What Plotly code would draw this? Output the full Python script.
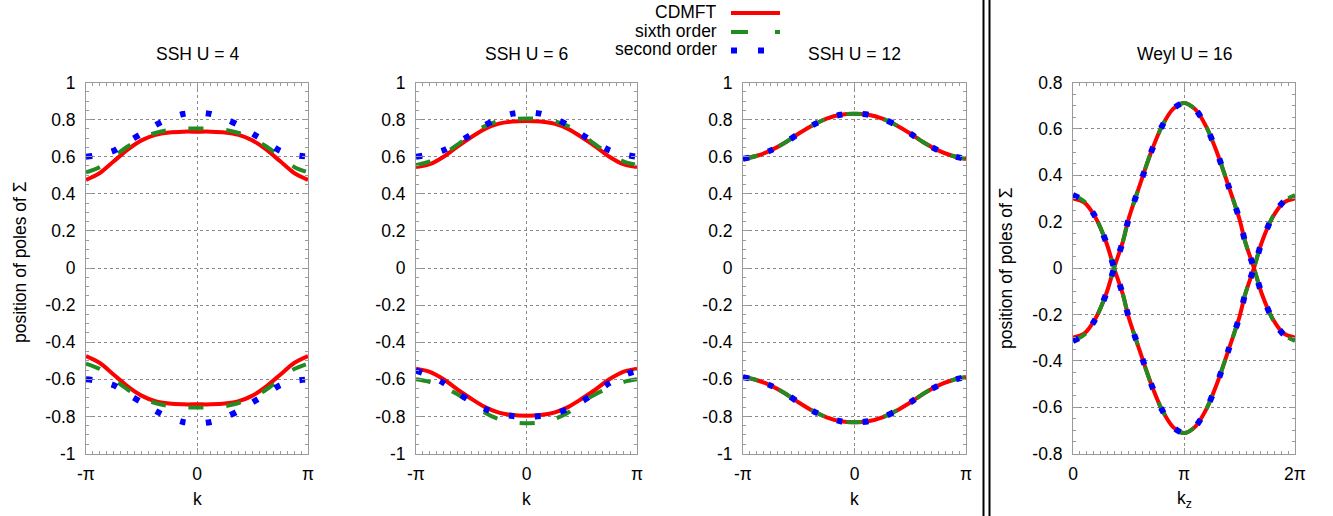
import math
import plotly.graph_objects as go

PI = math.pi

# ---------------- data (k in units of pi) ----------------
k_ssh = [-1, -0.875, -0.75, -0.625, -0.5, -0.375, -0.25, -0.125, 0,
         0.125, 0.25, 0.375, 0.5, 0.625, 0.75, 0.875, 1]

# SSH U = 4
u4_cdmft_up = [0.475, 0.512, 0.575, 0.638, 0.688, 0.718, 0.731, 0.735, 0.735,
               0.735, 0.731, 0.718, 0.688, 0.638, 0.575, 0.512, 0.475]
u4_cdmft_lo = [-0.475, -0.512, -0.575, -0.638, -0.688, -0.718, -0.731, -0.735, -0.735,
               -0.735, -0.731, -0.718, -0.688, -0.638, -0.575, -0.512, -0.475]
u4_sixth_up = [0.515, 0.545, 0.600, 0.655, 0.700, 0.728, 0.745, 0.752, 0.752,
               0.752, 0.745, 0.728, 0.700, 0.655, 0.600, 0.545, 0.515]
u4_sixth_lo = [-0.515, -0.545, -0.600, -0.655, -0.700, -0.728, -0.745, -0.752, -0.752,
               -0.752, -0.745, -0.728, -0.700, -0.655, -0.600, -0.545, -0.515]
u4_second_up = [0.600, 0.610, 0.632, 0.680, 0.724, 0.770, 0.806, 0.830, 0.838,
                0.830, 0.806, 0.770, 0.724, 0.680, 0.632, 0.610, 0.600]
u4_second_lo = [-0.600, -0.610, -0.632, -0.680, -0.724, -0.770, -0.806, -0.830, -0.838,
                -0.830, -0.806, -0.770, -0.724, -0.680, -0.632, -0.610, -0.600]

# SSH U = 6
u6_cdmft_up = [0.545, 0.560, 0.600, 0.655, 0.705, 0.750, 0.778, 0.790, 0.793,
               0.790, 0.778, 0.750, 0.705, 0.655, 0.600, 0.560, 0.545]
u6_cdmft_lo = [-0.543, -0.560, -0.600, -0.655, -0.705, -0.750, -0.780, -0.793, -0.796,
               -0.793, -0.780, -0.750, -0.705, -0.655, -0.600, -0.560, -0.543]
u6_sixth_up = [0.555, 0.575, 0.615, 0.665, 0.720, 0.765, 0.792, 0.803, 0.806,
               0.803, 0.792, 0.765, 0.720, 0.665, 0.615, 0.575, 0.555]
u6_sixth_lo = [-0.600, -0.615, -0.645, -0.680, -0.725, -0.780, -0.815, -0.832, -0.837,
               -0.832, -0.815, -0.780, -0.725, -0.680, -0.645, -0.615, -0.600]
u6_second_up = [0.600, 0.612, 0.635, 0.675, 0.720, 0.770, 0.808, 0.832, 0.840,
                0.832, 0.808, 0.770, 0.720, 0.675, 0.635, 0.612, 0.600]
u6_second_lo = [-0.553, -0.580, -0.620, -0.672, -0.720, -0.760, -0.785, -0.798, -0.802,
                -0.798, -0.785, -0.760, -0.720, -0.672, -0.620, -0.580, -0.553]

# SSH U = 12 (all three methods coincide)
u12_up = [0.588, 0.605, 0.634, 0.675, 0.725, 0.770, 0.805, 0.826, 0.832,
          0.826, 0.805, 0.770, 0.725, 0.675, 0.634, 0.605, 0.588]
u12_lo = [-0.588, -0.605, -0.634, -0.675, -0.725, -0.770, -0.805, -0.826, -0.832,
          -0.826, -0.805, -0.770, -0.725, -0.675, -0.634, -0.605, -0.588]

# Weyl U = 16 (kz in units of pi)
k_weyl = [0, 0.1, 0.2, 0.3, 0.37, 0.45, 0.5, 0.6, 0.7, 0.8, 0.9, 1.0,
          1.1, 1.2, 1.3, 1.4, 1.5, 1.55, 1.63, 1.7, 1.8, 1.9, 2.0]
weyl_cdmft_a = [0.300, 0.283, 0.220, 0.110, 0.000, -0.115, -0.210, -0.355, -0.495, -0.610, -0.685, -0.712,
                -0.685, -0.610, -0.495, -0.355, -0.210, -0.115, 0.000, 0.110, 0.220, 0.283, 0.300]
weyl_cdmft_b = [-0.300, -0.283, -0.220, -0.110, 0.000, 0.115, 0.210, 0.355, 0.495, 0.610, 0.685, 0.712,
                0.685, 0.610, 0.495, 0.355, 0.210, 0.115, 0.000, -0.110, -0.220, -0.283, -0.300]
weyl_pt_a = [0.315, 0.288, 0.222, 0.110, 0.000, -0.115, -0.210, -0.355, -0.495, -0.610, -0.685, -0.712,
             -0.685, -0.610, -0.495, -0.355, -0.210, -0.115, 0.000, 0.110, 0.222, 0.288, 0.315]
weyl_pt_b = [-0.315, -0.288, -0.222, -0.110, 0.000, 0.115, 0.210, 0.355, 0.495, 0.610, 0.685, 0.712,
             0.685, 0.610, 0.495, 0.355, 0.210, 0.115, 0.000, -0.110, -0.222, -0.288, -0.315]

panel_titles = ["SSH U = 4", "SSH U = 6", "SSH U = 12", "Weyl U = 16"]
legend_names = ["CDMFT", "sixth order", "second order"]
ssh_yticks = [-1, -0.8, -0.6, -0.4, -0.2, 0, 0.2, 0.4, 0.6, 0.8, 1]
ssh_ytext = ["-1", "-0.8", "-0.6", "-0.4", "-0.2", "0", "0.2", "0.4", "0.6", "0.8", "1"]
weyl_yticks = [-0.8, -0.6, -0.4, -0.2, 0, 0.2, 0.4, 0.6, 0.8]
weyl_ytext = ["-0.8", "-0.6", "-0.4", "-0.2", "0", "0.2", "0.4", "0.6", "0.8"]
ssh_xtext = ["-π", "0", "π"]
weyl_xtext = ["0", "π", "2π"]

# ---------------- styles ----------------
W, H = 1333, 516
FONT = "Liberation Sans, Arial, Helvetica, sans-serif"
FS = 17.5
RED, GREEN, BLUE = "#ff0000", "#228b22", "#0000ff"
styles = [
    dict(color=RED, width=4, dash="solid"),
    dict(color=GREEN, width=4, dash="15px,23px"),
    dict(color=BLUE, width=6, dash="6px,20px"),
]

# panel geometry in pixels
px_x = [(86, 308), (416, 637), (743, 966), (1073, 1295)]
py_top, py_bot = 82.5, 453.5


def fx(p):
    return p / W


def fy(p):
    return 1 - p / H


fig = go.Figure()


def add(axis_i, kpi, upper, lower, style):
    xs = [v * PI for v in kpi]
    x = xs + [None] + xs
    y = upper + [None] + lower
    sfx = "" if axis_i == 1 else str(axis_i)
    fig.add_trace(go.Scatter(
        x=x, y=y, mode="lines", xaxis="x" + sfx, yaxis="y" + sfx,
        line=dict(shape="spline", smoothing=0.8, **style),
        showlegend=False, hoverinfo="skip"))


# panel 1
add(1, k_ssh, u4_cdmft_up, u4_cdmft_lo, styles[0])
add(1, k_ssh, u4_sixth_up, u4_sixth_lo, styles[1])
add(1, k_ssh, u4_second_up, u4_second_lo, styles[2])
# panel 2
add(2, k_ssh, u6_cdmft_up, u6_cdmft_lo, styles[0])
add(2, k_ssh, u6_sixth_up, u6_sixth_lo, styles[1])
add(2, k_ssh, u6_second_up, u6_second_lo, styles[2])
# panel 3
add(3, k_ssh, u12_up, u12_lo, styles[0])
add(3, k_ssh, u12_up, u12_lo, styles[1])
add(3, k_ssh, u12_up, u12_lo, styles[2])
# panel 4
add(4, k_weyl, weyl_cdmft_a, weyl_cdmft_b, styles[0])
add(4, k_weyl, weyl_pt_a, weyl_pt_b, styles[1])
add(4, k_weyl, weyl_pt_a, weyl_pt_b, styles[2])

layout = dict(
    width=W, height=H,
    margin=dict(l=0, r=0, t=0, b=0, autoexpand=False),
    paper_bgcolor="white", plot_bgcolor="white",
    font=dict(family=FONT, size=FS, color="black"),
    showlegend=False,
)

grid_common = dict(
    showgrid=True, gridcolor="#8a8a8a", griddash="dot", gridwidth=1,
    showline=True, linecolor="#9a9a9a", linewidth=1, mirror="allticks",
    ticks="inside", ticklen=6, tickcolor="#9a9a9a", tickwidth=1,
    zeroline=False, tickfont=dict(family=FONT, size=FS, color="black"),
    fixedrange=True, automargin=False,
)

for i in range(4):
    sfx = "" if i == 0 else str(i + 1)
    x0, x1 = px_x[i]
    if i < 3:
        xr = [-PI, PI]
        xt = [-PI, 0, PI]
        xtt = ssh_xtext
        yr = [-1, 1]
        yt, ytt = ssh_yticks, ssh_ytext
    else:
        xr = [0, 2 * PI]
        xt = [0, PI, 2 * PI]
        xtt = weyl_xtext
        yr = [-0.8, 0.8]
        yt, ytt = weyl_yticks, weyl_ytext
    layout["xaxis" + sfx] = dict(
        domain=[fx(x0), fx(x1)], range=xr, anchor="y" + sfx,
        tickmode="array", tickvals=xt, ticktext=xtt, ticklabelstandoff=4,
        minor=dict(ticks="inside", ticklen=3, tickcolor="#9a9a9a", dtick=PI / 16,
                   tick0=0, showgrid=False),
        **grid_common)
    layout["yaxis" + sfx] = dict(
        domain=[fy(py_bot), fy(py_top)], range=yr, anchor="x" + sfx,
        tickmode="array", tickvals=yt, ticktext=ytt, ticklabelstandoff=6,
        minor=dict(ticks="inside", ticklen=3, tickcolor="#9a9a9a", dtick=0.05,
                   tick0=0, showgrid=False),
        **grid_common)

annotations = []
for i in range(4):
    x0, x1 = px_x[i]
    annotations.append(dict(text=panel_titles[i], x=fx((x0 + x1) / 2), y=fy(54),
                            xref="paper", yref="paper", showarrow=False,
                            xanchor="center", yanchor="middle",
                            font=dict(family=FONT, size=FS)))
    annotations.append(dict(text="k" if i < 3 else "k<sub>z</sub>",
                            x=fx((x0 + x1) / 2), y=fy(499),
                            xref="paper", yref="paper", showarrow=False,
                            xanchor="center", yanchor="middle",
                            font=dict(family=FONT, size=FS)))

annotations.append(dict(text="position of poles of Σ", x=fx(20), y=fy(262),
                        xref="paper", yref="paper", showarrow=False, textangle=-90,
                        xanchor="center", yanchor="middle", font=dict(family=FONT, size=FS)))
annotations.append(dict(text="position of poles of Σ", x=fx(1006), y=fy(268),
                        xref="paper", yref="paper", showarrow=False, textangle=-90,
                        xanchor="center", yanchor="middle", font=dict(family=FONT, size=FS)))

# manual legend (text to the left of the sample, as in the original)
leg_y = [12, 31, 49.5]
leg_dash = ["solid", "17px,27px", "6px,21px"]
shapes = []
for j in range(3):
    annotations.append(dict(text=legend_names[j], x=fx(719), y=fy(leg_y[j]),
                            xref="paper", yref="paper", showarrow=False,
                            xanchor="right", yanchor="middle",
                            font=dict(family=FONT, size=FS)))
    shapes.append(dict(type="line", xref="paper", yref="paper",
                       x0=fx(731), x1=fx(780), y0=fy(leg_y[j] + 1), y1=fy(leg_y[j] + 1),
                       line=dict(color=styles[j]["color"], width=styles[j]["width"],
                                 dash=leg_dash[j])))

# double vertical separator
for xp in (983.5, 989.5):
    shapes.append(dict(type="line", xref="paper", yref="paper",
                       x0=fx(xp), x1=fx(xp), y0=0, y1=1,
                       line=dict(color="black", width=2)))

layout["annotations"] = annotations
layout["shapes"] = shapes
fig.update_layout(**layout)

fig.write_html("out.html")
